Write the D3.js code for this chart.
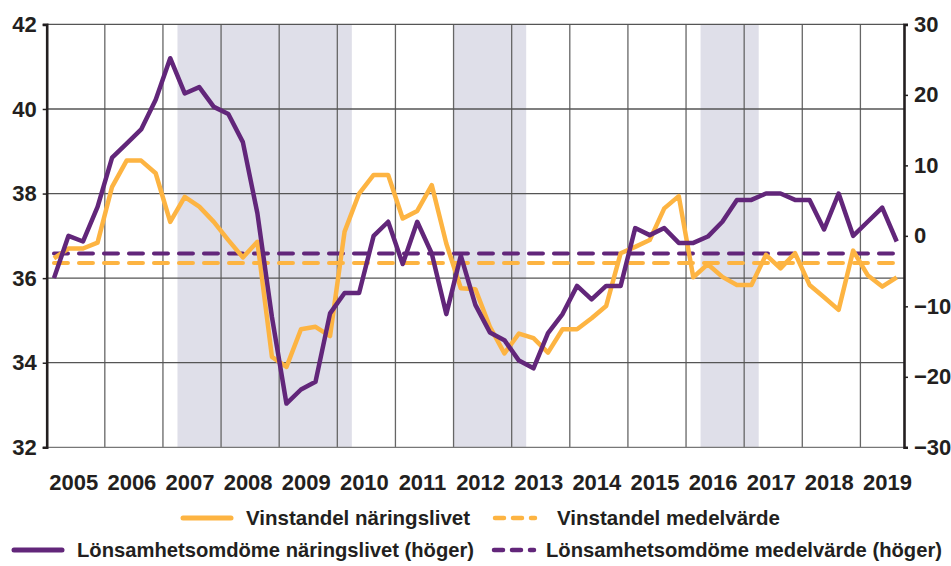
<!DOCTYPE html>
<html>
<head>
<meta charset="utf-8">
<script src="https://cdn.jsdelivr.net/npm/d3@7"></script>
<style>
body { margin: 0; background: #fff; }
text { font-family: "Liberation Sans", Arial, sans-serif; font-weight: bold; fill: #231f20; }
</style>
</head>
<body>
<script>
/* Data: quarterly, 2005 K1 - 2019 K3 */
var years = d3.range(2005, 2020);
var quarters = [];
years.forEach(function(y){ [1,2,3,4].forEach(function(q){ quarters.push(y + "K" + q); }); });
quarters = quarters.slice(0, 59);

// Vinstandel näringslivet (vänster axel, procent)
var vinstandel = [36.47, 36.70, 36.70, 36.84, 38.16, 38.78, 38.78, 38.48,
	37.33, 37.92, 37.69, 37.33, 36.90, 36.49, 36.86, 34.14,
	33.90, 34.79, 34.85, 34.63, 37.10, 38.00, 38.44, 38.44,
	37.41, 37.59, 38.20, 36.82, 35.76, 35.74, 34.85, 34.22,
	34.69, 34.58, 34.24, 34.79, 34.79, 35.05, 35.34, 36.59,
	36.74, 36.90, 37.65, 37.94, 36.02, 36.33, 36.03, 35.84,
	35.84, 36.55, 36.23, 36.59, 35.84, 35.55, 35.25, 36.65,
	36.07, 35.80, 36.02];

// Lönsamhetsomdöme näringslivet (höger axel, nettotal)
var lonsamhet = [-6.0, 0.0, -0.8, 4.1, 11.1, 13.1, 15.1, 19.3,
	25.2, 20.2, 21.1, 18.3, 17.3, 13.3, 3.2, -11.5,
	-23.8, -21.8, -20.7, -11.0, -8.1, -8.1, 0.0, 2.0,
	-4.0, 2.0, -2.5, -11.1, -2.8, -9.8, -13.7, -14.8,
	-17.7, -18.8, -13.8, -11.1, -7.1, -9.0, -7.1, -7.1,
	1.1, 0.1, 1.1, -1.0, -1.0, -0.1, 2.0, 5.1,
	5.1, 6.0, 6.0, 5.1, 5.1, 0.9, 6.0, 0.0,
	2.0, 4.0, -0.8];

var vinstandelMedel = 36.36;
var lonsamhetMedel = -2.5;

// Lågkonjunkturperioder (skuggade)
var shadeStart = ["2007K2", "2012K1", "2016K2"];
var shadeEnd = ["2010K1", "2013K1", "2017K1"];

var leftTicks = [32, 34, 36, 38, 40, 42];
var rightTicks = [-30, -20, -10, 0, 10, 20, 30];

var legendLabels = ["Vinstandel näringslivet", "Vinstandel medelvärde",
	"Lönsamhetsomdöme näringslivet (höger)", "Lönsamhetsomdöme medelvärde (höger)"];

/* Display setup */
var orange = "#fdb442",
	purple = "#62267a",
	plot = {left: 46.7, right: 904, top: 24.4, bottom: 447.3},
	svg = d3.select("body").append("svg")
		.attr("width", 951)
		.attr("height", 566);

var x = d3.scaleBand().domain(quarters).range([plot.left, plot.right]),
	bw = x.bandwidth(),
	yL = d3.scaleLinear().domain([32, 42]).range([plot.bottom, plot.top]),
	yR = d3.scaleLinear().domain([-30, 30]).range([plot.bottom, plot.top]);

function cx(i) { return x(quarters[i]) + bw / 2; }

// shading
svg.append("g").selectAll("rect")
	.data(shadeStart)
	.enter().append("rect")
		.attr("x", function(d) { return x(d); })
		.attr("y", plot.top)
		.attr("width", function(d, i) { return x(shadeEnd[i]) + bw - x(d); })
		.attr("height", plot.bottom - plot.top)
		.style("fill", "#dfdfe9");

// grid
var yearStarts = years.slice(1).map(function(y) { return y + "K1"; });
svg.append("g").selectAll("line")
	.data(yearStarts)
	.enter().append("line")
		.attr("x1", function(d) { return x(d); })
		.attr("x2", function(d) { return x(d); })
		.attr("y1", plot.top)
		.attr("y2", plot.bottom)
		.style("stroke", "#666")
		.style("stroke-width", 1.3);

svg.append("g").selectAll("line")
	.data(leftTicks)
	.enter().append("line")
		.attr("x1", plot.left)
		.attr("x2", plot.right)
		.attr("y1", function(d) { return yL(d); })
		.attr("y2", function(d) { return yL(d); })
		.style("stroke", function(d) { return d == 32 ? "#777" : "#555"; })
		.style("stroke-width", 1.3);

// axes
var axL = svg.append("g")
	.attr("transform", "translate(" + plot.left + ",0)")
	.call(d3.axisLeft(yL).tickValues(leftTicks).tickSize(4).tickPadding(6));
var axR = svg.append("g")
	.attr("transform", "translate(" + plot.right + ",0)")
	.call(d3.axisRight(yR).tickValues(rightTicks).tickSize(4).tickPadding(6));
[axL, axR].forEach(function(ax) {
	ax.select(".domain").style("stroke", "#231f20").style("stroke-width", 2.6);
	ax.selectAll(".tick line").style("stroke", "#231f20").style("stroke-width", 1.5);
	ax.selectAll("text").style("font-size", "22px").style("font-family", null).attr("fill", null);
});

// year labels
svg.append("g").selectAll("text")
	.data(years)
	.enter().append("text")
		.attr("x", function(d) { return x(d + "K3") - 2; })
		.attr("y", 490)
		.attr("text-anchor", "middle")
		.style("font-size", "22px")
		.text(function(d) { return d; });

// mean lines
svg.append("line")
	.attr("x1", cx(0)).attr("x2", cx(quarters.length - 1))
	.attr("y1", yL(vinstandelMedel)).attr("y2", yL(vinstandelMedel))
	.style("stroke", orange).style("stroke-width", 4)
	.style("stroke-dasharray", "14,11").style("stroke-linecap", "round");
svg.append("line")
	.attr("x1", cx(0)).attr("x2", cx(quarters.length - 1))
	.attr("y1", yR(lonsamhetMedel)).attr("y2", yR(lonsamhetMedel))
	.style("stroke", purple).style("stroke-width", 4)
	.style("stroke-dasharray", "14,11").style("stroke-linecap", "round");

// series
var lineL = d3.line().x(function(d, i) { return cx(i); }).y(function(d) { return yL(d); }),
	lineR = d3.line().x(function(d, i) { return cx(i); }).y(function(d) { return yR(d); });

svg.append("path")
	.attr("d", lineL(vinstandel))
	.style("fill", "none").style("stroke", orange).style("stroke-width", 4.5)
	.style("stroke-linejoin", "round");
svg.append("path")
	.attr("d", lineR(lonsamhet))
	.style("fill", "none").style("stroke", purple).style("stroke-width", 4.5)
	.style("stroke-linejoin", "round");

/* Legend */
var legend = [
	{x: 183, y: 518, tx: 246, ty: 525, color: orange, dash: null},
	{x: 495, y: 518, tx: 557, ty: 525, color: orange, dash: "9,9"},
	{x: 14, y: 550, tx: 77, ty: 557, color: purple, dash: null},
	{x: 494, y: 550, tx: 546, ty: 557, color: purple, dash: "9,9"}
];
var lg = svg.append("g").selectAll("g")
	.data(legend)
	.enter().append("g");
lg.append("line")
	.attr("x1", function(d) { return d.x; })
	.attr("x2", function(d) { return d.dash ? d.x + 40 : d.x + 48; })
	.attr("y1", function(d) { return d.y; })
	.attr("y2", function(d) { return d.y; })
	.style("stroke", function(d) { return d.color; })
	.style("stroke-width", function(d) { return d.dash ? 4.5 : 5; })
	.style("stroke-linecap", "round")
	.style("stroke-dasharray", function(d) { return d.dash; });
lg.append("text")
	.attr("x", function(d) { return d.tx; })
	.attr("y", function(d) { return d.ty; })
	.style("font-size", function(d, i) { return i < 2 ? "20.5px" : "20.2px"; })
	.text(function(d, i) { return legendLabels[i]; });
</script>
</body>
</html>
